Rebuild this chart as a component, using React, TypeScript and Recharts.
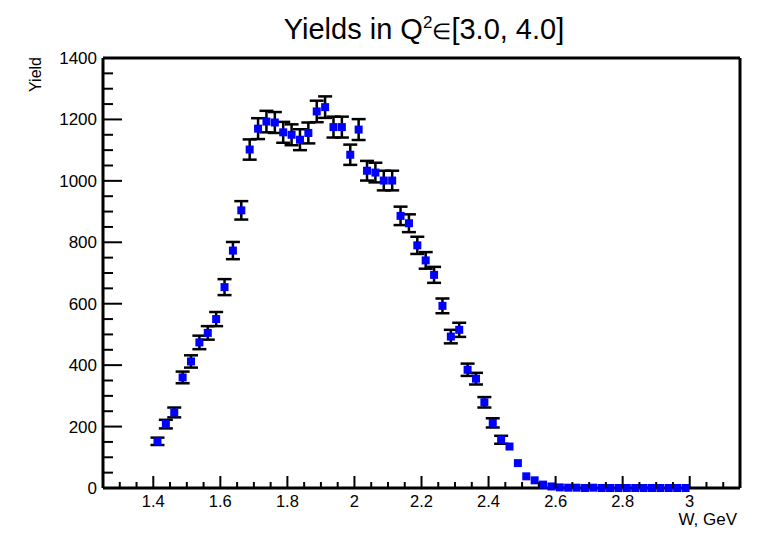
import React from 'react';
import { ComposedChart, Scatter, ErrorBar, XAxis, YAxis, ReferenceLine } from 'recharts';

// bin centres (W, GeV)
const W_BINS = [
  1.4125, 1.4375, 1.4625, 1.4875, 1.5125, 1.5375, 1.5625, 1.5875, 1.6125, 1.6375,
  1.6625, 1.6875, 1.7125, 1.7375, 1.7625, 1.7875, 1.8125, 1.8375, 1.8625, 1.8875,
  1.9125, 1.9375, 1.9625, 1.9875, 2.0125, 2.0375, 2.0625, 2.0875, 2.1125, 2.1375,
  2.1625, 2.1875, 2.2125, 2.2375, 2.2625, 2.2875, 2.3125, 2.3375, 2.3625, 2.3875,
  2.4125, 2.4375, 2.4625, 2.4875, 2.5125, 2.5375, 2.5625, 2.5875, 2.6125, 2.6375,
  2.6625, 2.6875, 2.7125, 2.7375, 2.7625, 2.7875, 2.8125, 2.8375, 2.8625, 2.8875,
  2.9125, 2.9375, 2.9625, 2.9875,
];

const YIELDS = [
  152, 208, 246, 360, 412, 474, 505, 550, 654, 773,
  904, 1102, 1170, 1193, 1190, 1158, 1150, 1134, 1156, 1226,
  1240, 1175, 1175, 1085, 1167, 1033, 1027, 1001, 1001, 886,
  862, 790, 741, 694, 593, 493, 515, 385, 356, 279,
  212, 157, 135, 81, 38, 25, 11, 5, 2, 1,
  1, 0, 1, 0, 0, 0, 0, 0, 0, 0,
  0, 0, 0, 0,
];

// 0 = no error bar visible outside the marker
const ERRORS = [
  12, 14, 16, 19, 20, 22, 22, 23, 26, 28,
  30, 33, 34, 35, 34, 34, 34, 34, 34, 35,
  35, 34, 34, 33, 34, 32, 32, 32, 32, 30,
  29, 28, 27, 26, 24, 22, 23, 20, 19, 17,
  15, 13, 0, 0, 0, 0, 0, 0, 0, 0,
  0, 0, 0, 0, 0, 0, 0, 0, 0, 0,
  0, 0, 0, 0,
];

const X_MAJOR = [1.4, 1.6, 1.8, 2.0, 2.2, 2.4, 2.6, 2.8, 3.0];
const X_LABELS = ['1.4', '1.6', '1.8', '2', '2.2', '2.4', '2.6', '2.8', '3'];
const X_MINOR = [
  1.3, 1.35, 1.45, 1.5, 1.55, 1.65, 1.7, 1.75, 1.85, 1.9, 1.95, 2.05, 2.1, 2.15,
  2.25, 2.3, 2.35, 2.45, 2.5, 2.55, 2.65, 2.7, 2.75, 2.85, 2.9, 2.95, 3.05, 3.1,
];
const Y_MAJOR = [0, 200, 400, 600, 800, 1000, 1200, 1400];
const Y_MINOR = [50, 100, 150, 250, 300, 350, 450, 500, 550, 650, 700, 750, 850, 900, 950, 1050, 1100, 1150, 1250, 1300, 1350];

const FONT = '"Liberation Sans", Arial, Helvetica, sans-serif';

const data = W_BINS.map((w, i) => ({ w, y: YIELDS[i], err: ERRORS[i] }));
const withErr = data.filter((d) => d.err > 0);

const near = (a: number, b: number) => Math.abs(a - b) < 1e-6;

const XTick = (props: any) => {
  const { x, y, payload } = props;
  const idx = X_MAJOR.findIndex((m) => near(m, payload.value));
  const major = idx >= 0;
  return (
    <g>
      <line x1={x} x2={x} y1={y} y2={y - (major ? 12 : 6)} stroke="#000" strokeWidth={2} />
      {major && (
        <text x={x} y={y + 19} textAnchor="middle" fontSize={16.5} fontFamily={FONT} fill="#000">
          {X_LABELS[idx]}
        </text>
      )}
    </g>
  );
};

const YTick = (props: any) => {
  const { x, y, payload } = props;
  const major = Y_MAJOR.some((m) => near(m, payload.value));
  return (
    <g>
      <line x1={x} x2={x + (major ? 19 : 10)} y1={y} y2={y} stroke="#000" strokeWidth={2} />
      {major && (
        <text x={x - 6} y={y + 6} textAnchor="end" fontSize={17} fontFamily={FONT} fill="#000">
          {payload.value}
        </text>
      )}
    </g>
  );
};

const Square = (p: any) => <rect x={p.cx - 4} y={p.cy - 4} width={8} height={8} fill="#0000ff" />;

export default function App() {
  return (
    <div style={{ position: 'absolute', left: 0, top: 0, width: 771, height: 533, background: '#fff', fontFamily: FONT }}>
      <div
        style={{
          position: 'absolute', left: 424, top: 15, transform: 'translateX(-50%)',
          fontSize: 29, lineHeight: 1, whiteSpace: 'nowrap', color: '#000',
        }}
      >
        Yields in Q<span style={{ fontSize: 17, position: 'relative', top: -11 }}>2</span>
        <span style={{ fontSize: 22 }}>∈</span>[3.0, 4.0]
      </div>
      <ComposedChart width={771} height={533} margin={{ top: 58, right: 31, bottom: 0, left: 0 }}>
        <XAxis
          type="number"
          dataKey="w"
          domain={[1.25, 3.15]}
          ticks={[...X_MAJOR, ...X_MINOR]}
          interval={0}
          height={45}
          tickSize={0}
          tickMargin={0}
          tickLine={false}
          axisLine={{ stroke: '#000', strokeWidth: 3 }}
          tick={<XTick />}
          label={{
            content: () => (
              <text x={737} y={525} textAnchor="end" fontSize={17} fontFamily={FONT} fill="#000">
                W, GeV
              </text>
            ),
          }}
        />
        <YAxis
          type="number"
          dataKey="y"
          domain={[0, 1400]}
          ticks={[...Y_MAJOR, ...Y_MINOR]}
          interval={0}
          width={103}
          tickSize={0}
          tickMargin={0}
          tickLine={false}
          axisLine={{ stroke: '#000', strokeWidth: 3 }}
          tick={<YTick />}
          label={{
            content: () => (
              <text x={41} y={57} transform="rotate(-90 41 57)" textAnchor="end" fontSize={16} fontFamily={FONT} fill="#000">
                Yield
              </text>
            ),
          }}
        />
        <ReferenceLine y={1400} stroke="#000" strokeWidth={3} />
        <ReferenceLine x={3.15} stroke="#000" strokeWidth={3} />
        <Scatter data={withErr} dataKey="y" shape={() => <g />} isAnimationActive={false}>
          <ErrorBar dataKey="err" direction="y" width={7} stroke="#000" strokeWidth={2.5} />
        </Scatter>
        <Scatter data={data} dataKey="y" shape={<Square />} isAnimationActive={false} />
      </ComposedChart>
    </div>
  );
}
